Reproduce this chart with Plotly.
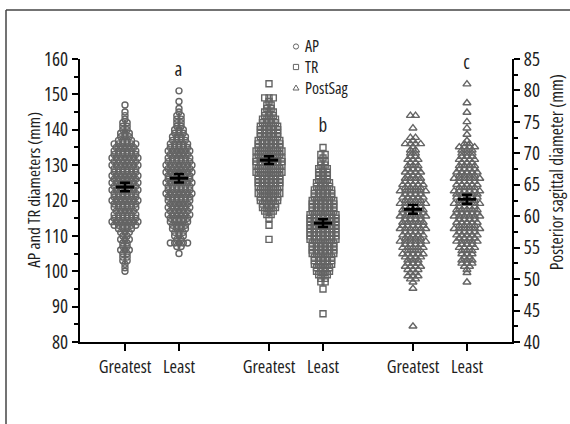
import plotly.graph_objects as go

# ---------------- data ----------------
categories = ["Greatest", "Least", "Greatest", "Least", "Greatest", "Least"]
cat_pos = [0, 1, 2.667, 3.667, 5.333, 6.333]

ap_greatest_vals = [100, 101, 102, 103, 104, 105, 106, 107, 108, 109, 110, 111, 112, 113, 114, 115, 116, 117, 118, 119,
                    120, 121, 122, 123, 124, 125, 126, 127, 128, 129, 130, 131, 132, 133, 134, 135, 136, 137, 138, 139,
                    140, 141, 142, 143, 144, 145, 147]
ap_greatest_counts = [1, 1, 1, 2, 2, 2, 3, 2, 2, 3, 2, 3, 4, 6, 7, 6, 6, 5, 6, 6,
                      7, 6, 6, 7, 6, 7, 6, 7, 6, 6, 7, 6, 7, 6, 6, 5, 6, 4, 3, 3,
                      2, 2, 2, 1, 1, 1, 1]

ap_least_vals = [105, 107, 108, 109, 110, 111, 112, 113, 114, 115, 116, 117, 118, 119, 120, 121, 122, 123, 124, 125,
                 126, 127, 128, 129, 130, 131, 132, 133, 134, 135, 136, 137, 138, 139, 140, 141, 142, 143, 144, 145,
                 146, 148, 151]
ap_least_counts = [1, 2, 5, 2, 3, 3, 4, 4, 5, 5, 6, 5, 6, 5, 6, 6, 7, 6, 6, 7,
                   6, 6, 7, 6, 7, 6, 6, 5, 6, 5, 5, 4, 4, 3, 3, 2, 2, 2, 2, 1,
                   1, 1, 1]

tr_greatest_vals = [109, 113, 115, 116, 117, 118, 119, 120, 121, 122, 123, 124, 125, 126, 127, 128, 129, 130, 131, 132,
                    133, 134, 135, 136, 137, 138, 139, 140, 141, 142, 143, 144, 145, 146, 147, 148, 149, 153]
tr_greatest_counts = [1, 1, 1, 2, 3, 4, 4, 5, 5, 6, 5, 6, 6, 6, 6, 7, 6, 7, 7, 7,
                      6, 7, 6, 6, 6, 5, 5, 5, 5, 4, 4, 3, 3, 2, 2, 1, 3, 1]

tr_least_vals = [88, 95, 97, 98, 99, 100, 101, 102, 103, 104, 105, 106, 107, 108, 109, 110, 111, 112, 113, 114,
                 115, 116, 117, 118, 119, 120, 121, 122, 123, 124, 125, 126, 127, 128, 129, 130, 131, 132, 133, 135]
tr_least_counts = [1, 1, 2, 2, 3, 4, 4, 5, 5, 5, 6, 6, 6, 6, 7, 7, 7, 7, 7, 7,
                   7, 7, 6, 6, 6, 6, 5, 5, 5, 4, 4, 3, 3, 3, 3, 2, 2, 1, 2, 1]

ps_greatest_vals = [42.5, 48.5, 49.5, 50, 50.5, 51, 51.5, 52, 52.5, 53, 53.5, 54, 54.5, 55, 55.5, 56, 56.5, 57, 57.5, 58,
                    58.5, 59, 59.5, 60, 60.5, 61, 61.5, 62, 62.5, 63, 63.5, 64, 64.5, 65, 65.5, 66, 66.5, 67, 67.5, 68,
                    68.5, 69, 69.5, 70, 70.5, 71, 71.5, 72, 72.5, 74, 76]
ps_greatest_counts = [1, 1, 1, 2, 3, 2, 3, 4, 3, 3, 4, 5, 3, 5, 4, 6, 4, 5, 4, 6,
                      5, 5, 4, 6, 5, 5, 4, 6, 4, 5, 4, 6, 4, 5, 4, 4, 3, 4, 3, 3,
                      2, 3, 2, 2, 2, 1, 4, 1, 2, 1, 2]

ps_least_vals = [49.5, 51, 51.5, 52, 52.5, 53, 53.5, 54, 54.5, 55, 55.5, 56, 56.5, 57, 57.5, 58, 58.5, 59, 59.5, 60,
                 60.5, 61, 61.5, 62, 62.5, 63, 63.5, 64, 64.5, 65, 65.5, 66, 66.5, 67, 67.5, 68, 68.5, 69, 69.5, 70,
                 70.5, 71, 71.5, 72, 73, 74, 75, 76.5, 78, 81]
ps_least_counts = [1, 1, 1, 2, 3, 3, 2, 3, 3, 4, 3, 5, 4, 5, 4, 6, 4, 5, 4, 6,
                   5, 5, 4, 6, 4, 5, 5, 6, 4, 5, 4, 6, 4, 5, 4, 4, 3, 4, 3, 3,
                   3, 4, 2, 1, 1, 1, 1, 1, 1, 1]

group_means = [123.8, 126.3, 131.4, 113.6, 61.1, 62.7]
group_sems = [1.2, 1.2, 1.1, 1.1, 0.7, 0.7]
letters = ["a", "b", "c"]
legend_names = ["AP", "TR", "PostSag"]

# ---------------- style ----------------
FONT = "Open Sans, DejaVu Sans, sans-serif"
GRAY = "rgb(100,100,100)"
TXT = "#1e1e1e"
W, H = 570, 424
L, R, T, B = 80, 58, 59, 82
PW, PH = W - L - R, H - T - B


def px(x):
    return (x - L) / PW


def py(y):
    return (H - B - y) / PH


def swarm(center, vals, counts, dx=0.08):
    xs, ys = [], []
    for v, n in zip(vals, counts):
        for i in range(n):
            xs.append(center + (i - (n - 1) / 2) * dx)
            ys.append(v)
    return xs, ys


fig = go.Figure()

groups = [
    (ap_greatest_vals, ap_greatest_counts, "circle-open", 6, "y", 0.08),
    (ap_least_vals, ap_least_counts, "circle-open", 6, "y", 0.08),
    (tr_greatest_vals, tr_greatest_counts, "square-open", 6, "y", 0.08),
    (tr_least_vals, tr_least_counts, "square-open", 6, "y", 0.08),
    (ps_greatest_vals, ps_greatest_counts, "triangle-up-open", 7, "y2", 0.095),
    (ps_least_vals, ps_least_counts, "triangle-up-open", 7, "y2", 0.095),
]

for k, (vals, cnts, sym, size, yax, dx) in enumerate(groups):
    xs, ys = swarm(cat_pos[k], vals, cnts, dx)
    fig.add_trace(go.Scatter(
        x=xs, y=ys, mode="markers", yaxis=yax, showlegend=False, hoverinfo="skip",
        marker=dict(symbol=sym, size=size, color=GRAY, line=dict(width=1.4, color=GRAY)),
    ))

for k in range(6):
    yax = "y" if k < 4 else "y2"
    fig.add_trace(go.Scatter(
        x=[cat_pos[k]], y=[group_means[k]], mode="markers", yaxis=yax, showlegend=False,
        marker=dict(symbol="line-ew-open", size=13, color="black", line=dict(width=3, color="black")),
        error_y=dict(type="data", array=[group_sems[k]], visible=True, color="black", thickness=2.5, width=5),
    ))

# letters above the "Least" groups
letter_pos = [(1, 151, "y"), (3.667, 135, "y"), (6.333, 81, "y2")]
for (xv, yv, yax), t in zip(letter_pos, letters):
    fig.add_annotation(x=xv, y=yv, xref="x", yref=yax, text=t, showarrow=False, yshift=22,
                       font=dict(family=FONT, size=19, color=TXT))

# manual legend: symbols + one multi-line text
s = 2.6
lx = 296
rows = [46.5, 67, 87.5]
fig.add_shape(type="circle", xref="paper", yref="paper",
              x0=px(lx - s), x1=px(lx + s), y0=py(rows[0] + s), y1=py(rows[0] - s),
              line=dict(color=GRAY, width=1))
fig.add_shape(type="rect", xref="paper", yref="paper",
              x0=px(lx - s), x1=px(lx + s), y0=py(rows[1] + s), y1=py(rows[1] - s),
              line=dict(color=GRAY, width=1))
fig.add_shape(type="path", xref="paper", yref="paper",
              path=f"M {px(lx - 3)} {py(rows[2] + 2.5)} L {px(lx + 3)} {py(rows[2] + 2.5)} L {px(lx)} {py(rows[2] - 2.5)} Z",
              line=dict(color=GRAY, width=1))
fig.add_annotation(x=px(304), y=py(rows[1]), xref="paper", yref="paper", text="<br>".join(legend_names),
                   showarrow=False, xanchor="left", yanchor="middle", align="left", borderpad=0,
                   font=dict(family=FONT, size=16, color=TXT))

# axis titles
fig.add_annotation(x=px(33), y=py(190), xref="paper", yref="paper", text="AP and TR diameters (mm)",
                   textangle=-90, showarrow=False, xanchor="center", yanchor="middle",
                   font=dict(family=FONT, size=17, color=TXT))
fig.add_annotation(x=px(556), y=py(172), xref="paper", yref="paper", text="Posterior sagittal diameter (mm)",
                   textangle=-90, showarrow=False, xanchor="center", yanchor="middle",
                   font=dict(family=FONT, size=17.5, color=TXT))

# outer frame (left and top edges)
fig.add_shape(type="line", xref="paper", yref="paper", x0=px(6), x1=px(6), y0=py(10), y1=py(430),
              line=dict(color="#444", width=1.5))
fig.add_shape(type="line", xref="paper", yref="paper", x0=px(6), x1=px(580), y0=py(10), y1=py(10),
              line=dict(color="#444", width=1.5))

fig.update_layout(
    width=W, height=H,
    margin=dict(l=L, r=R, t=T, b=B),
    paper_bgcolor="white", plot_bgcolor="white",
    font=dict(family=FONT, size=17, color=TXT),
    xaxis=dict(range=[-0.833, 7.167], tickvals=cat_pos, ticktext=categories, showgrid=False, zeroline=False,
               showline=True, linecolor="black", linewidth=2, ticks="outside", ticklen=7, tickwidth=2,
               tickcolor="black", tickangle=0, tickfont=dict(size=18)),
    yaxis=dict(range=[80, 160], dtick=10, showgrid=False, zeroline=False, showline=True, linecolor="black",
               linewidth=2, ticks="outside", ticklen=6, tickwidth=2, tickcolor="black",
               minor=dict(dtick=5, ticks="outside", ticklen=4, tickwidth=2, tickcolor="black"),
               tickfont=dict(size=19)),
    yaxis2=dict(range=[40, 85], dtick=5, overlaying="y", side="right", showgrid=False, zeroline=False,
                showline=True, linecolor="black", linewidth=2, ticks="outside", ticklen=6, tickwidth=2,
                tickcolor="black", minor=dict(dtick=2.5, ticks="outside", ticklen=4, tickwidth=2, tickcolor="black"),
                tickfont=dict(size=19)),
)

# render all text with the condensed width of the font
post = """
var st = document.createElement('style');
st.textContent = '.js-plotly-plot text { font-stretch: 75% !important; }';
document.head.appendChild(st);
"""
fig.write_html("out.html", post_script=post)
